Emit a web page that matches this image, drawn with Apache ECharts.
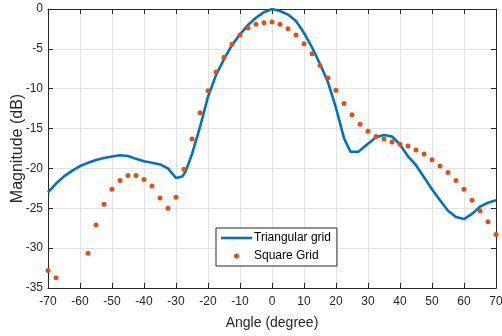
<!DOCTYPE html>
<html><head><meta charset="utf-8">
<script src="https://cdn.jsdelivr.net/npm/echarts@6/dist/echarts.min.js"></script>
<style>html,body{margin:0;padding:0;background:#fff}#c{width:502px;height:336px}</style>
</head><body><div id="c"></div>
<script>
var triAngles = [-70,-67.5,-65,-62.5,-60,-57.5,-55,-52.5,-50,-47.5,-45,-42.5,-40,-37.5,-35,-32.5,-30,-28,-27,-25,-22.5,-20,-17.5,-15,-12.5,-10,-7.5,-5,-2.5,0,2.5,5,7.5,10,12.5,15,17.5,20,22.5,24.5,27,30,32.5,35,37.5,40,42.5,45,47.5,50,52.5,55,57.5,60,62.5,65,67.5,70];
var triValues = [-23.0,-21.9,-21.0,-20.3,-19.7,-19.3,-18.95,-18.7,-18.5,-18.35,-18.45,-18.8,-19.1,-19.3,-19.5,-20.0,-21.2,-21.0,-20.4,-18.2,-14.8,-11.0,-8.3,-6.3,-4.5,-3.2,-2.0,-1.1,-0.4,0,-0.25,-0.7,-1.5,-3.0,-4.8,-6.9,-9.2,-12.4,-16.2,-17.9,-17.9,-16.9,-16.1,-15.8,-16.0,-17.0,-18.5,-19.6,-21.1,-22.6,-24.0,-25.3,-26.1,-26.35,-25.7,-24.8,-24.3,-24.0];
var sqAngles = [-70,-67.5,-65,-62.5,-60,-57.5,-55,-52.5,-50,-47.5,-45,-42.5,-40,-37.5,-35,-32.5,-30,-27.5,-25,-22.5,-20,-17.5,-15,-12.5,-10,-7.5,-5,-2.5,0,2.5,5,7.5,10,12.5,15,17.5,20,22.5,25,27.5,30,32.5,35,37.5,40,42.5,45,47.5,50,52.5,55,57.5,60,62.5,65,67.5,70];
var sqValues = [-32.8,-33.7,null,null,null,-30.65,-27.1,-24.5,-22.6,-21.5,-20.9,-20.9,-21.4,-22.2,-23.7,-25.0,-23.6,-20.1,-16.3,-13.0,-10.25,-7.9,-6.06,-4.43,-3.26,-2.38,-1.92,-1.72,-1.63,-1.9,-2.47,-3.26,-4.35,-5.6,-7.1,-8.66,-10.2,-11.84,-13.26,-14.47,-15.35,-15.98,-16.3,-16.7,-16.98,-17.2,-17.7,-18.2,-18.9,-19.7,-20.5,-21.5,-22.6,-24.0,-25.3,-26.7,-28.3];
var xTicks = {min:-70,max:70,interval:10};
var yTicks = {min:-35,max:0,interval:5};
var seriesNames = ['Triangular grid','Square Grid'];

function pairs(xs, ys){ var out=[]; for(var i=0;i<xs.length;i++){ out.push([xs[i], ys[i]]); } return out; }

var axisCol = '#262626';
var font = 'Liberation Sans, Arial, Helvetica, sans-serif';
var chart = echarts.init(document.getElementById('c'));
var baseX = {type:'value', min:xTicks.min, max:xTicks.max, interval:xTicks.interval,
  axisLine:{show:true,onZero:false,lineStyle:{color:axisCol,width:1}},
  axisTick:{show:true,inside:true,length:5,lineStyle:{color:axisCol}}};
var baseY = {type:'value', min:yTicks.min, max:yTicks.max, interval:yTicks.interval,
  axisLine:{show:true,onZero:false,lineStyle:{color:axisCol,width:1}},
  axisTick:{show:true,inside:true,length:5,lineStyle:{color:axisCol}}};
var lineIcon = 'path://M0,0 M0,3.7 L31,3.7 L31,6.3 L0,6.3 Z M31,10';
var dotIcon = 'path://M0,0 M12.9,5 A2.6,2.6 0 1 1 18.1,5 A2.6,2.6 0 1 1 12.9,5 Z M31,10';
chart.setOption({
  animation:false,
  backgroundColor:'#fff',
  grid:{left:48,right:6,top:9,bottom:48,containLabel:false,outerBoundsMode:'none'},
  xAxis:[
    Object.assign({}, baseX, {position:'bottom', name:'Angle (degree)', nameLocation:'middle', nameGap:28, nameMoveOverlap:false,
      nameTextStyle:{color:axisCol,fontSize:14,fontFamily:font},
      axisLabel:{color:axisCol,fontSize:12,fontFamily:font,margin:8},
      splitLine:{show:true,lineStyle:{color:'#e3e3e3',width:1}}}),
    Object.assign({}, baseX, {position:'top', axisLabel:{show:false}, splitLine:{show:false}})
  ],
  yAxis:[
    Object.assign({}, baseY, {position:'left', name:'Magnitude (dB)', nameLocation:'middle', nameGap:22, nameMoveOverlap:false,
      nameTextStyle:{color:axisCol,fontSize:16,fontFamily:font},
      axisLabel:{color:axisCol,fontSize:12,fontFamily:font,margin:5},
      splitLine:{show:true,lineStyle:{color:'#e3e3e3',width:1}}}),
    Object.assign({}, baseY, {position:'right', axisLabel:{show:false}, splitLine:{show:false}})
  ],
  legend:{orient:'vertical', left:216, top:228, width:120, padding:[4,6,4,5], itemGap:6,
    borderColor:'#262626', borderWidth:1, backgroundColor:'#fff', itemWidth:31, itemHeight:10,
    textStyle:{color:'#000',fontSize:12,fontFamily:font, padding:[0,0,0,-3]},
    data:[{name:seriesNames[0], icon:lineIcon, itemStyle:{color:'#0072BD'}},
          {name:seriesNames[1], icon:dotIcon, itemStyle:{color:'#D95319',opacity:1}}]},
  series:[
    {name:seriesNames[0], type:'line', data:pairs(triAngles,triValues), showSymbol:false, symbol:'none',
      lineStyle:{color:'#0072BD',width:2.6}, itemStyle:{color:'#0072BD'}, z:2, clip:true},
    {name:seriesNames[1], type:'scatter', data:pairs(sqAngles,sqValues), symbol:'circle', symbolSize:5,
      itemStyle:{color:'#D95319',opacity:1}, z:3}
  ]
});
</script></body></html>
